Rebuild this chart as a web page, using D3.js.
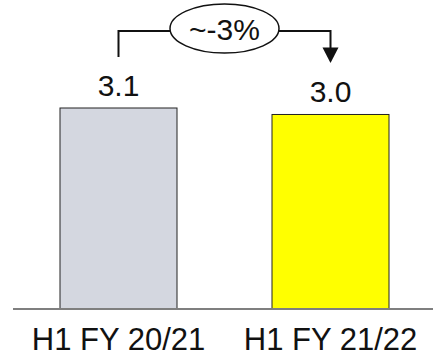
<!DOCTYPE html>
<html>
<head>
<meta charset="utf-8">
<script src="https://cdn.jsdelivr.net/npm/d3@7"></script>
<style>
  html, body { margin: 0; padding: 0; background: #fff; }
  svg { display: block; }
  text { font-family: Arial, "Liberation Sans", Helvetica, sans-serif; fill: #111; }
</style>
</head>
<body>
<svg id="chart" width="433" height="356"></svg>
<script>
// Half-year values
const categories = ["H1 FY 20/21", "H1 FY 21/22"];
const values = [3.1, 3.0];
const valueLabels = ["3.1", "3.0"];
const barColors = ["#D4D7E0", "#FFFF00"];
const changeLabel = "~-3%";

const svg = d3.select("#chart");
const W = 433, H = 356;
const baseY = 309;

const x = d3.scaleBand()
  .domain(categories)
  .range([60, 389])
  .paddingInner(95 / 212)
  .paddingOuter(0);

const y = d3.scaleLinear()
  .domain([0, 3.1])
  .range([baseY, 108]);

// Bars
svg.append("g").selectAll("rect")
  .data(categories)
  .join("rect")
  .attr("x", d => x(d))
  .attr("y", (d, i) => y(values[i]))
  .attr("width", x.bandwidth())
  .attr("height", (d, i) => y(0) - y(values[i]))
  .attr("fill", (d, i) => barColors[i])
  .attr("stroke", "#222")
  .attr("stroke-width", 1);

// Baseline axis (no ticks) with category labels
const axis = d3.axisBottom(x).tickSize(0).tickPadding(0);
const gAxis = svg.append("g")
  .attr("transform", `translate(0,${baseY})`)
  .call(axis);
gAxis.select(".domain").remove();
gAxis.selectAll("text")
  .attr("y", 41)
  .attr("dy", 0)
  .style("font-size", "31px")
  .style("font-family", "Arial, 'Liberation Sans', sans-serif")
  .attr("fill", "#111");
svg.append("line")
  .attr("x1", 13).attr("x2", W)
  .attr("y1", baseY).attr("y2", baseY)
  .attr("stroke", "#7f7f7f")
  .attr("stroke-width", 2);

// Value labels
svg.append("g").selectAll("text")
  .data(categories)
  .join("text")
  .attr("x", d => x(d) + x.bandwidth() / 2)
  .attr("y", (d, i) => y(values[i]) - 12)
  .attr("text-anchor", "middle")
  .style("font-size", "30px")
  .text((d, i) => valueLabels[i]);

// Change bracket between the two bars
const cx0 = x(categories[0]) + x.bandwidth() / 2;
const cx1 = x(categories[1]) + x.bandwidth() / 2;
const bracketY = 31;
const ell = { cx: (cx0 + cx1) / 2, cy: 28.5, rx: 54.5, ry: 24.5 };

const g = svg.append("g");
g.append("path")
  .attr("d", `M${cx0},57 V${bracketY} H${ell.cx - ell.rx}`)
  .attr("fill", "none").attr("stroke", "#111").attr("stroke-width", 2);
g.append("path")
  .attr("d", `M${ell.cx + ell.rx},${bracketY} H${cx1} V49`)
  .attr("fill", "none").attr("stroke", "#111").attr("stroke-width", 2);
g.append("path")
  .attr("d", `M${cx1 - 8},47.5 L${cx1 + 8},47.5 L${cx1},63 Z`)
  .attr("fill", "#111");
g.append("ellipse")
  .attr("cx", ell.cx).attr("cy", ell.cy)
  .attr("rx", ell.rx).attr("ry", ell.ry)
  .attr("fill", "#fff").attr("stroke", "#111").attr("stroke-width", 1.5);
g.append("text")
  .attr("x", ell.cx)
  .attr("y", 40)
  .attr("text-anchor", "middle")
  .style("font-size", "30px")
  .text(changeLabel);
</script>
</body>
</html>
